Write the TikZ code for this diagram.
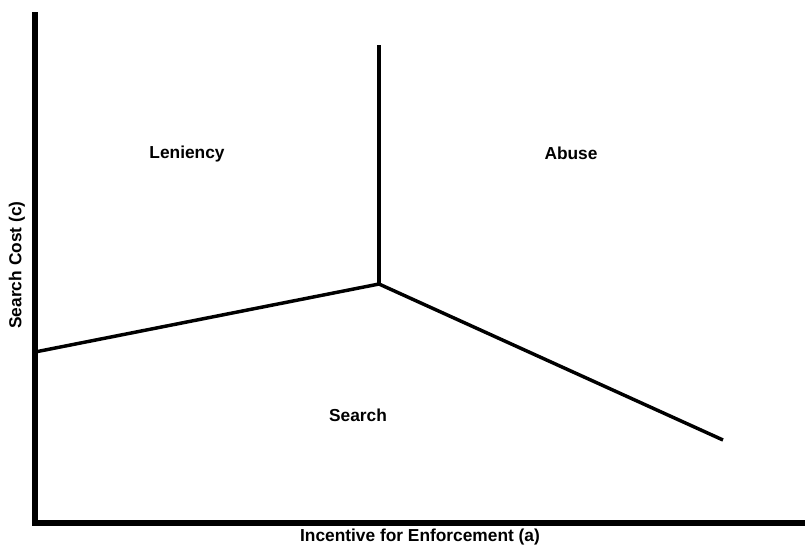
\documentclass[tikz,border=0pt]{standalone}
\usepackage{fontspec}
\setmainfont{Liberation Sans}
\begin{document}
\begin{tikzpicture}[x=0.75pt,y=-0.75pt,
  axis/.style={line width=4pt},
  bound/.style={line width=2.6pt},
  lbl/.style={font=\bfseries\fontsize{13}{15}\selectfont,inner sep=0pt}]
\useasboundingbox (0,0) rectangle (805,547);
\coordinate (top) at (35,12);
\coordinate (origin) at (35,523);
\coordinate (xend) at (805,523);
\coordinate (vtop) at (379,45);
\coordinate (junc) at (379,284);
\coordinate (left) at (35,352);
\coordinate (rend) at (723,440);
\draw[axis] (top) -- (origin) -- (xend);
\draw[bound] (vtop) -- (junc);
\draw[bound] (left) -- (junc) -- (rend);
\node[lbl] (len) at (187,154) {Leniency};
\node[lbl] (abu) at (571,153) {Abuse};
\node[lbl] (sea) at (358,415) {Search};
\node[lbl] (xl) at (420,537) {Incentive for Enforcement (a)};
\node[lbl,rotate=90] (yl) at (17,265) {Search Cost (c)};
\end{tikzpicture}
\end{document}
